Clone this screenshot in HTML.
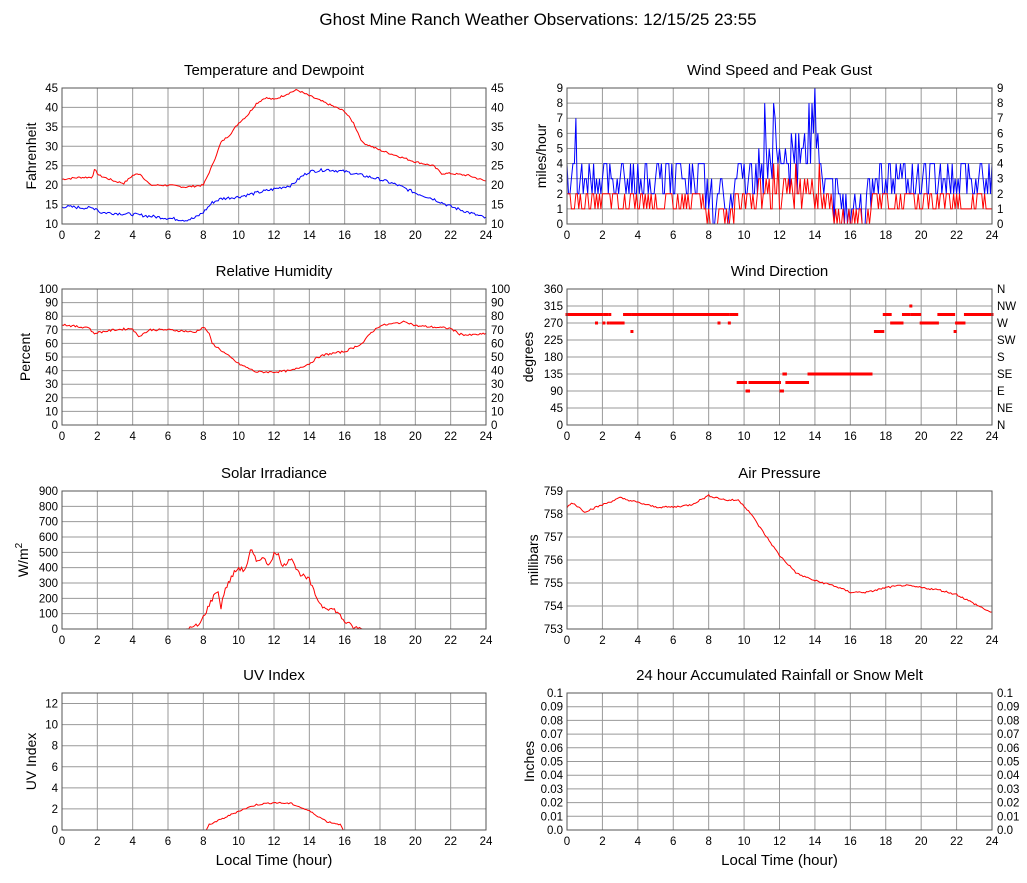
<!DOCTYPE html>
<html><head><meta charset="utf-8"><style>
body{margin:0;background:#fff;}
svg text{font-family:"Liberation Sans",sans-serif;fill:#000;}
</style></head><body>
<svg id="s" width="1027" height="878" xmlns="http://www.w3.org/2000/svg"></svg>
<script>
const S=document.getElementById('s');let h='';
h+='<text x="538" y="25" font-size="17" text-anchor="middle">Ghost Mine Ranch Weather Observations: 12/15/25 23:55</text>';
let seed=7;function rnd(){seed=(seed*9301+49297)%233280;return seed/233280;}
function interp(pts,t){for(let i=0;i<pts.length-1;i++){if(t>=pts[i][0]&&t<=pts[i+1][0]){const a=pts[i],b=pts[i+1];return a[1]+(b[1]-a[1])*(t-a[0])/(b[0]-a[0]||1);}}return pts[pts.length-1][1];}
function panel(o){
 const {x0,y0,x1,y1,min,max,ticks,title,ylabel,right,xlabel}=o;
 const X=t=>x0+(x1-x0)*t/24, Y=v=>y1-(y1-y0)*(v-min)/(max-min);
 let g='';
 g+=`<text x="${(x0+x1)/2}" y="${y0-13}" font-size="15" text-anchor="middle">${title}</text>`;
 for(let t=0;t<=24;t+=2){g+=`<line x1="${X(t)}" y1="${y0}" x2="${X(t)}" y2="${y1}" stroke="#999"/>`;
  g+=`<text x="${X(t)}" y="${y1+15}" font-size="11.5" text-anchor="middle">${t}</text>`;}
 ticks.forEach(tk=>{const y=Y(tk[0]);g+=`<line x1="${x0}" y1="${y}" x2="${x1}" y2="${y}" stroke="#999"/>`;
  g+=`<text x="${x0-4}" y="${y+4}" font-size="11.5" text-anchor="end">${tk[1]}</text>`;
  if(right)g+=`<text x="${x1+5}" y="${y+4}" font-size="11.5">${tk[2]!==undefined?tk[2]:tk[1]}</text>`;});
 g+=`<text transform="translate(${o.ylx},${(y0+y1)/2}) rotate(-90)" font-size="14" text-anchor="middle">${ylabel}</text>`;
 if(xlabel)g+=`<text x="${(x0+x1)/2}" y="${y1+35}" font-size="15" text-anchor="middle">Local Time (hour)</text>`;
 (o.series||[]).forEach(sr=>{let d='';for(let i=0;i<=sr.n;i++){const t=24*i/sr.n;let v=sr.f(t);v=Math.max(min,Math.min(max,v));d+=(i?'L':'M')+X(t).toFixed(1)+' '+Y(v).toFixed(1);}
  g+=`<path d="${d}" fill="none" stroke="${sr.c}" stroke-width="1"/>`;});
 (o.dots||[]).forEach(p=>{g+=`<rect x="${X(p[0])-1.5}" y="${Y(p[1])-1.5}" width="3" height="3" fill="red"/>`;});
 g+=`<rect x="${x0}" y="${y0}" width="${x1-x0}" height="${y1-y0}" fill="none" stroke="#555"/>`;
 h+=g;
}
const L0=62,L1=486,R0=567,R1=992;
const temp=[[0,21.5],[1,22],[1.7,22],[1.85,24],[2.1,22.5],[3,21],[3.5,20.5],[4,22.5],[4.4,23],[4.8,21],[5,20],[6,20],[7,19.5],[8,20],[8.5,25],[9,31],[9.5,33],[10,36],[10.5,38],[11,41],[11.5,42.5],[12,42],[12.5,43],[13,44],[13.3,44.5],[14,43],[15,41],[16,39],[16.5,36],[17,31],[18,29],[19,27.5],[20,26],[21,25],[21.5,23],[22,23],[23,22.5],[24,21]];
const dew=[[0,14.5],[2,14],[2.1,13],[4,12.5],[5,12],[6,11.5],[7,11],[7.5,11.5],[8,13],[8.5,15.5],[9,16.5],[10,17],[11,18],[12,19],[13,20],[13.5,22],[14,23.5],[15,24],[16,23.5],[17,22.5],[18,21.5],[19,20],[20,18],[21,16.5],[22,14.5],[23,13],[24,11.5]];
let tk=[];for(let v=10;v<=45;v+=5)tk.push([v,v]);
panel({x0:L0,y0:88,x1:L1,y1:224,min:10,max:45,ticks:tk,title:'Temperature and Dewpoint',ylabel:'Fahrenheit',ylx:36,right:1,
 series:[{c:'red',n:288,f:t=>interp(temp,t)+(rnd()-.5)*0.5},{c:'blue',n:288,f:t=>interp(dew,t)+(rnd()-.5)*0.8}]});
tk=[];for(let v=0;v<=9;v++)tk.push([v,v]);
let spd=[],gst=[];
for(let i=0;i<=288;i++){const t=i/12;const hi=(t>10.8&&t<14.3)?1:0;const calm=(t>15&&t<17.2)||(t>7.8&&t<9.5);
 let g=Math.round(1.5+rnd()*3+hi*rnd()*4-(calm?1.5:0));if(g<0)g=0;let s=Math.round(0.5+rnd()*2+hi*rnd()*2-(calm?1:0));if(s<0)s=0;if(s>g)s=g;gst.push(g);spd.push(s);}
gst[6]=7;gst[164]=8;gst[168]=9;gst[134]=8;
panel({x0:R0,y0:88,x1:R1,y1:224,min:0,max:9,ticks:tk,title:'Wind Speed and Peak Gust',ylabel:'miles/hour',ylx:546,right:1,
 series:[{c:'blue',n:288,f:t=>gst[Math.round(t*12)]},{c:'red',n:288,f:t=>spd[Math.round(t*12)]}]});
const rh=[[0,74],[1,72],[1.5,72],[1.8,67],[2,68],[3,70],[4,71],[4.3,65],[5,70],[6,70],[7,69],[7.5,68],[8,72],[8.3,68],[8.5,60],[9,55],[10,45],[10.5,42],[11,39],[12,39],[13,40],[14,45],[14.5,50],[15,52],[16,54],[17,60],[17.5,68],[18,73],[19,75],[19.5,76],[20,73],[21,72],[22,71],[22.5,67],[23,66],[24,67]];
tk=[];for(let v=0;v<=100;v+=10)tk.push([v,v]);
panel({x0:L0,y0:289,x1:L1,y1:425,min:0,max:100,ticks:tk,title:'Relative Humidity',ylabel:'Percent',ylx:30,right:1,
 series:[{c:'red',n:288,f:t=>interp(rh,t)+(rnd()-.5)*1.5}]});
const dn=['N','NE','E','SE','S','SW','W','NW','N'];tk=[];for(let i=0;i<=8;i++)tk.push([i*45,i*45,dn[i]]);
let dots=[];let cur=112.5;
for(let i=0;i<=288;i++){const t=i/12;let v;
 if(t<9.6){v=292.5;const r=rnd();if(r<.04)v=270;else if(r<.05)v=247.5;if(t>1.9&&t<3.3&&r<.6)v=270;}
 else if(t<14.7){const r=rnd();if(r<.12)cur=[112.5,135,90,157.5,67.5,112.5][Math.floor(rnd()*6)];v=cur;}
 else if(t<17.2)v=135;else if(t<17.4)continue;
 else{const r=rnd();if(t<17.9)v=247.5;else if(t<18.3)v=292.5;else if(t<19)v=270;else if(t<20)v=r<.1?315:292.5;else if(t<21)v=270;else if(t<22)v=r<.1?247.5:292.5;else if(t<22.5)v=r<.15?315:270;else v=292.5;}
 dots.push([t,v]);}
panel({x0:R0,y0:289,x1:R1,y1:425,min:0,max:360,ticks:tk,title:'Wind Direction',ylabel:'degrees',ylx:533,right:1,dots:dots});
const sol=[[0,0],[7,0],[7.3,5],[7.8,30],[8.3,150],[8.8,260],[9,140],[9.2,250],[9.7,360],[10,400],[10.3,380],[10.5,430],[10.7,520],[11,440],[11.3,470],[11.7,420],[12,490],[12.3,480],[12.5,400],[12.8,450],[13,470],[13.3,380],[13.7,340],[14,320],[14.3,230],[14.7,150],[15,140],[15.5,120],[16,50],[16.5,10],[17,0],[24,0]];
tk=[];for(let v=0;v<=900;v+=100)tk.push([v,v]);
panel({x0:L0,y0:491,x1:L1,y1:629,min:0,max:900,ticks:tk,title:'Solar Irradiance',ylabel:'W/m<tspan dy="-6" font-size="10">2</tspan>',ylx:28,
 series:[{c:'red',n:288,f:t=>{const v=interp(sol,t);return v>0?v+(rnd()-.5)*30:0;}}]});
const pr=[[0,758.3],[0.3,758.5],[1,758.1],[2,758.4],[3,758.7],[4,758.5],[5,758.3],[6,758.3],[7,758.4],[8,758.8],[9,758.6],[9.7,758.6],[10.3,758.1],[11,757.3],[12,756.2],[13,755.4],[14,755.1],[15,754.9],[16,754.6],[17,754.6],[18,754.8],[19,754.9],[20,754.8],[21,754.7],[22,754.5],[23,754.1],[24,753.7]];
tk=[];for(let v=753;v<=759;v++)tk.push([v,v]);
panel({x0:R0,y0:491,x1:R1,y1:629,min:753,max:759,ticks:tk,title:'Air Pressure',ylabel:'millibars',ylx:538,
 series:[{c:'red',n:288,f:t=>interp(pr,t)+(rnd()-.5)*0.08}]});
const uv=[[0,0],[8.2,0],[8.3,0.5],[9,1],[10,1.8],[11,2.4],[12,2.6],[13,2.5],[14,1.8],[15,0.8],[15.8,0.5],[15.9,0],[24,0]];
tk=[];for(let v=0;v<=12;v+=2)tk.push([v,v]);
panel({x0:L0,y0:693,x1:L1,y1:830,min:0,max:13,ticks:tk,title:'UV Index',ylabel:'UV Index',ylx:36,xlabel:1,
 series:[{c:'red',n:288,f:t=>{const v=interp(uv,t);return v>0?v+(rnd()-.5)*0.15:0;}}]});
tk=[[0,'0.0']];for(let i=1;i<=9;i++)tk.push([i/100,'0.0'+i]);tk.push([0.1,'0.1']);
panel({x0:R0,y0:693,x1:R1,y1:830,min:0,max:0.1,ticks:tk,title:'24 hour Accumulated Rainfall or Snow Melt',ylabel:'Inches',ylx:534,right:1,xlabel:1,
 series:[{c:'red',n:24,f:t=>0}]});
S.innerHTML=h;
</script>
</body></html>
